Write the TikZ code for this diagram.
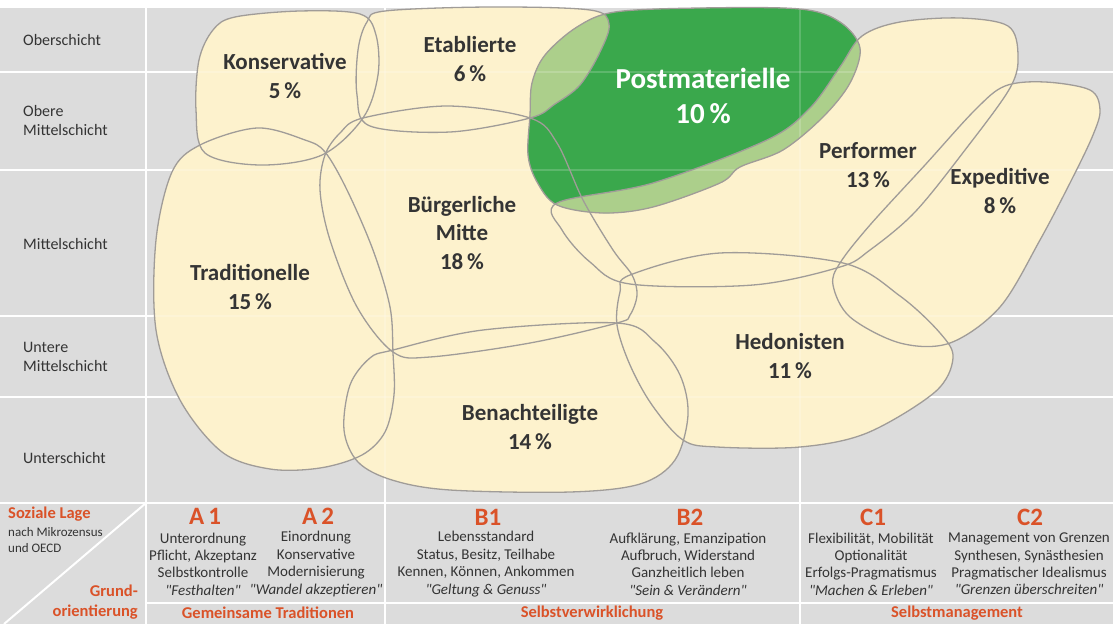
\documentclass[tikz,border=0pt]{standalone}
\usepackage{fontspec}
\setmainfont{Carlito}
\definecolor{bg}{RGB}{220,220,220}
\definecolor{cream}{RGB}{253,242,205}
\definecolor{outl}{RGB}{160,156,152}
\definecolor{pgreen}{RGB}{58,168,76}
\definecolor{lgreen}{RGB}{172,207,139}
\definecolor{tgray}{RGB}{52,52,52}
\definecolor{hred}{RGB}{218,82,40}
\newcommand\qq{\textquotedbl}
\newcommand\blobK{plot[smooth cycle,tension=0.55] coordinates {(235,17) (300,11) (360,14) (376,35) (378,75) (363,118) (322,155) (260,165) (205,153) (196,110) (199,60) (213,30)}}
\newcommand\blobE{plot[smooth cycle,tension=0.55] coordinates {(385,11) (490,7) (590,10) (609,24) (600,52) (580,85) (555,104) (530,118) (450,132) (370,126) (357,95) (358,50) (367,22)}}
\newcommand\blobBM{plot[smooth cycle,tension=0.55] coordinates {(363,118) (447,106) (530,118) (557,143) (583,200) (613,250) (632,275) (637,295) (630,315) (617,323) (530,343) (430,357) (393,352) (357,307) (330,240) (320,190) (325,155) (340,133)}}
\newcommand\blobT{plot[smooth cycle,tension=0.55] coordinates {(325,152) (347,190) (373,250) (390,307) (393,353) (394,395) (385,432) (362,455) (320,468) (270,469) (222,452) (180,400) (156,330) (156,240) (172,172) (200,145) (257,128) (305,140)}}
\newcommand\blobBe{plot[smooth cycle,tension=0.55] coordinates {(393,350) (483,330) (617,323) (655,342) (680,375) (688,415) (675,460) (640,484) (570,492) (450,490) (392,480) (358,462) (344,430) (350,385) (370,358)}}
\newcommand\blobH{plot[smooth cycle,tension=0.55] coordinates {(630,275) (720,253) (843,263) (900,296) (940,333) (953,358) (935,392) (867,433) (800,447) (717,447) (683,440) (652,405) (630,365) (617,325) (620,292)}}
\newcommand\blobP{plot[smooth cycle,tension=0.55] coordinates {(557,203) (653,183) (767,140) (810,108) (840,67) (862,36) (900,22) (960,18) (1008,26) (1018,55) (1010,88) (965,150) (915,212) (870,250) (840,267) (753,285) (630,284) (590,262) (562,230)}}
\newcommand\blobX{plot[smooth cycle,tension=0.55] coordinates {(1005,86) (1045,82) (1090,90) (1100,110) (1093,135) (1073,177) (1040,240) (1000,307) (950,343) (900,343) (850,317) (833,285) (840,263) (870,225) (925,165) (975,110)}}
\newcommand\blobG{plot[smooth cycle,tension=0.55] coordinates {(557,205) (537,182) (528,155) (530,115) (532,83) (545,55) (577,27) (615,12) (700,8) (800,9) (840,22) (860,48) (850,83) (823,117) (783,150) (740,167) (720,183) (653,207) (603,213)}}
\begin{document}
\begin{tikzpicture}[x=1pt,y=-1pt,
  grid/.style={white,line width=2.5pt},
  blobline/.style={draw=outl,line width=1.3pt},
  big/.style={font=\fontsize{23}{28.5}\selectfont\bfseries,text=tgray,align=center,inner sep=0pt},
  side/.style={font=\fontsize{16}{19}\selectfont,text=tgray,align=left,anchor=west,inner sep=0pt},
  tab/.style={font=\fontsize{15}{17.4}\selectfont,text=tgray,align=center,inner sep=0pt},
  hdr/.style={font=\fontsize{25}{25}\selectfont\bfseries,text=hred,inner sep=0pt},
  grp/.style={font=\fontsize{16.5}{19}\selectfont\bfseries,text=hred,inner sep=0pt}]
\useasboundingbox (0,0) rectangle (1113,624);
\fill[white] (0,0) rectangle (1113,624);
\fill[bg] (0,8) rectangle (1113,624);
% grid
\foreach \yy in {72,170,316,397,503} \draw[grid] (0,\yy) -- (1113,\yy);
\draw[grid] (146,603) -- (1113,603);
\foreach \xx in {146,385,800} \draw[grid] (\xx,8) -- (\xx,624);
\draw[white,line width=2pt] (4,624) -- (146,503);
% blobs fill
\foreach \b in {\blobK,\blobE,\blobBM,\blobT,\blobBe,\blobH,\blobP,\blobX} {\fill[cream] \b;}
\fill[pgreen] \blobG;
\begin{scope}
  \clip \blobG;
  \fill[lgreen] \blobE;
  \fill[lgreen] \blobP;
\end{scope}
% faint grid over plot
\begin{scope}[opacity=0.18]
\foreach \yy in {72,170,316,397} \draw[white,line width=2pt] (146,\yy) -- (1113,\yy);
\foreach \xx in {385,800} \draw[white,line width=2pt] (\xx,8) -- (\xx,503);
\end{scope}
% outlines
\foreach \b in {\blobK,\blobE,\blobBM,\blobT,\blobBe,\blobH,\blobP,\blobX,\blobG} {\draw[blobline] \b;}
% blob labels
\node[big] (kons) at (285,76) {Konservative\\5\,\%};
\node[big] (etab) at (470,59) {Etablierte\\6\,\%};
\node[big,text=white,font=\fontsize{29}{35}\selectfont\bfseries] (post) at (703,96) {Postmaterielle\\10\,\%};
\node[big] (perf) at (868,165) {Performer\\13\,\%};
\node[big] (expe) at (1000,191) {Expeditive\\8\,\%};
\node[big] (buer) at (462,233) {Bürgerliche\\Mitte\\18\,\%};
\node[big] (trad) at (250,287) {Traditionelle\\15\,\%};
\node[big] (hedo) at (790,356) {Hedonisten\\11\,\%};
\node[big] (bena) at (530,427) {Benachteiligte\\14\,\%};
% side labels
\node[side] (ober) at (23,40) {Oberschicht};
\node[side] (obmi) at (23,121) {Obere\\Mittelschicht};
\node[side] (mitt) at (23,244) {Mittelschicht};
\node[side] (unmi) at (23,357) {Untere\\Mittelschicht};
\node[side] (unte) at (23,458) {Unterschicht};
% bottom-left cell
\node[grp,anchor=west] (sozl) at (8,514) {Soziale Lage};
\node[font=\fontsize{13}{15.5}\selectfont,text=tgray,align=left,anchor=west,inner sep=0pt] (mikro) at (8,540) {nach Mikrozensus\\und OECD};
\node[grp,anchor=east] (grun) at (138,591) {Grund-};
\node[grp,anchor=east] (orie) at (138,612) {orientierung};
% headers
\node[hdr] (ha1) at (205,516) {A\,1};
\node[hdr] (ha2) at (318,516) {A\,2};
\node[hdr] (hb1) at (488,517) {B1};
\node[hdr] (hb2) at (690,517) {B2};
\node[hdr] (hc1) at (873,517) {C1};
\node[hdr] (hc2) at (1030,517) {C2};
% column texts
\node[tab] (ta1) at (203,564) {Unterordnung\\Pflicht, Akzeptanz\\Selbstkontrolle\\\textit{\qq Festhalten\qq}};
\node[tab] (ta2) at (316,564) {Einordnung\\Konservative\\Modernisierung\\\textit{\qq Wandel akzeptieren\qq}};
\node[tab] (tb1) at (486,564) {Lebensstandard\\Status, Besitz, Teilhabe\\Kennen, Können, Ankommen\\\textit{\qq Geltung \& Genuss\qq}};
\node[tab] (tb2) at (688,564) {Aufklärung, Emanzipation\\Aufbruch, Widerstand\\Ganzheitlich leben\\\textit{\qq Sein \& Verändern\qq}};
\node[tab] (tc1) at (871,564) {Flexibilität, Mobilität\\Optionalität\\Erfolgs-Pragmatismus\\\textit{\qq Machen \& Erleben\qq}};
\node[tab] (tc2) at (1029,564) {Management von Grenzen\\Synthesen, Synästhesien\\Pragmatischer Idealismus\\\textit{\qq Grenzen überschreiten\qq}};
% group labels
\node[grp] (gtra) at (268,613) {Gemeinsame Traditionen};
\node[grp] (gsvw) at (592,613) {Selbstverwirklichung};
\node[grp] (gsma) at (957,613) {Selbstmanagement};
\end{tikzpicture}
\end{document}
